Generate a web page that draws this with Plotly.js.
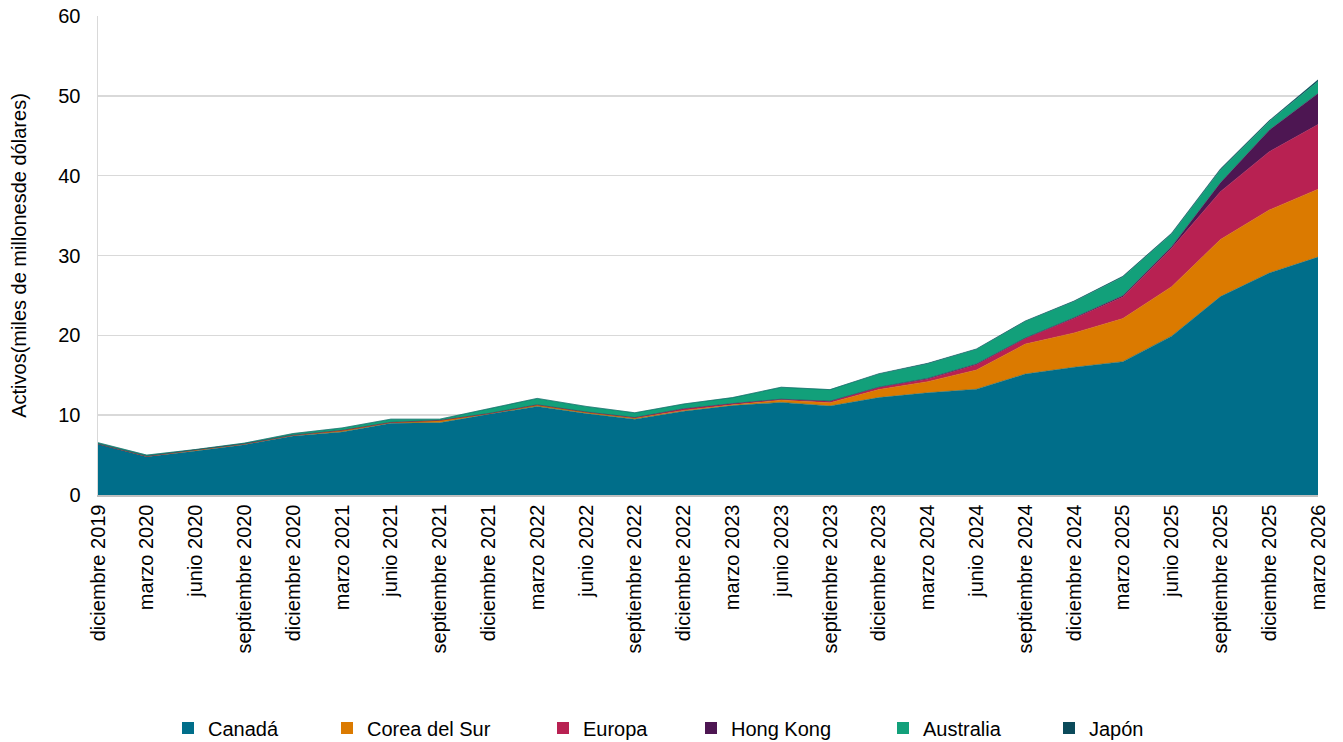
<!DOCTYPE html>
<html>
<head>
<meta charset="utf-8">
<script src="https://cdn.plot.ly/plotly-3.0.1.min.js"></script>
<style>html,body{margin:0;padding:0;background:#fff;}#chart{width:1343px;height:742px;}</style>
</head>
<body>
<div id="chart"></div>
<script>
const periods = ["diciembre 2019","marzo 2020","junio 2020","septiembre 2020","diciembre 2020","marzo 2021","junio 2021","septiembre 2021","diciembre 2021","marzo 2022","junio 2022","septiembre 2022","diciembre 2022","marzo 2023","junio 2023","septiembre 2023","diciembre 2023","marzo 2024","junio 2024","septiembre 2024","diciembre 2024","marzo 2025","junio 2025","septiembre 2025","diciembre 2025","marzo 2026"];
const canada    = [6.4,4.8,5.5,6.3,7.4,7.9,9.0,9.05,10.1,11.1,10.2,9.5,10.5,11.2,11.6,11.15,12.2,12.8,13.25,15.15,16.0,16.7,19.9,24.85,27.8,29.8];
const corea     = [0.0,0.05,0.15,0.1,0.1,0.2,0.1,0.3,0.1,0.2,0.2,0.15,0.1,0.1,0.3,0.4,1.0,1.4,2.4,3.75,4.3,5.4,6.2,7.15,7.9,8.5];
const europa    = [0,0,0,0,0,0,0,0,0,0,0,0.05,0.2,0.15,0.1,0.2,0.25,0.3,0.65,0.7,1.8,2.7,4.8,6.0,7.3,8.1];
const hongkong  = [0,0,0,0,0,0,0,0,0,0,0,0,0,0,0,0,0.05,0.1,0.1,0.05,0.1,0.15,0.2,1.1,2.7,3.9];
const australia = [0.15,0.15,0.05,0.1,0.2,0.3,0.4,0.15,0.6,0.8,0.7,0.6,0.6,0.75,1.5,1.45,1.65,1.85,1.85,2.1,2.05,2.35,1.6,1.6,1.1,1.5];
const japon     = [0,0,0,0,0,0,0,0,0,0,0,0,0,0,0,0,0.05,0.05,0.05,0.05,0.05,0.1,0.1,0.15,0.1,0.2];
const yTicks = [0,10,20,30,40,50,60];

const series = [
  {name:"Canadá", y:canada, color:"#006E8A"},
  {name:"Corea del Sur", y:corea, color:"#DB7A00"},
  {name:"Europa", y:europa, color:"#B82152"},
  {name:"Hong Kong", y:hongkong, color:"#4D1652"},
  {name:"Australia", y:australia, color:"#12A07A"},
  {name:"Japón", y:japon, color:"#0B4A5A"}
];
// text start x (px) of each legend entry in the reference
const legendTextX = [208, 367, 583, 731, 923, 1089];

const traces = series.map(s => ({
  type:"scatter", mode:"lines", name:s.name, x:periods, y:s.y,
  stackgroup:"one", fillcolor:s.color, showlegend:false,
  line:{color:s.color, width:0.5}
}));
// legend-only entries with square swatches
series.forEach((s, i) => {
  traces.push({
    type:"scatter", mode:"markers", name:s.name, x:[null], y:[null],
    marker:{symbol:"square", size:12, color:s.color},
    legend: i === 0 ? "legend" : "legend" + (i + 1), showlegend:true
  });
});

const layout = {
  width:1343, height:742,
  paper_bgcolor:"#fff", plot_bgcolor:"#fff",
  margin:{l:98, r:25, t:16, b:247},
  font:{family:"Liberation Sans, Arial, sans-serif", color:"#000"},
  showlegend:true,
  xaxis:{type:"category", tickangle:-90, tickfont:{size:20},
         showgrid:false, showline:true, linecolor:"#bfbfbf", linewidth:1.5,
         ticks:"", range:[0,25], automargin:false},
  yaxis:{range:[0,60], tickvals:yTicks, tickfont:{size:20},
         showgrid:true, gridcolor:"#d9d9d9", gridwidth:1.5,
         showline:true, linecolor:"#d9d9d9", linewidth:1.5, zeroline:false,
         ticks:"", ticklabelstandoff:12, automargin:false,
         title:{text:"Activos(miles de millonesde dólares)", font:{size:20}, standoff:26}}
};
legendTextX.forEach((tx, i) => {
  const key = i === 0 ? "legend" : "legend" + (i + 1);
  layout[key] = {orientation:"h", xref:"container", yref:"container",
                 x:(tx - 40) / 1343, xanchor:"left", y:(742 - 728) / 742, yanchor:"middle",
                 font:{size:20}, bgcolor:"rgba(0,0,0,0)", itemwidth:30};
});
Plotly.newPlot("chart", traces, layout, {displayModeBar:false, staticPlot:true});
</script>
</body>
</html>
